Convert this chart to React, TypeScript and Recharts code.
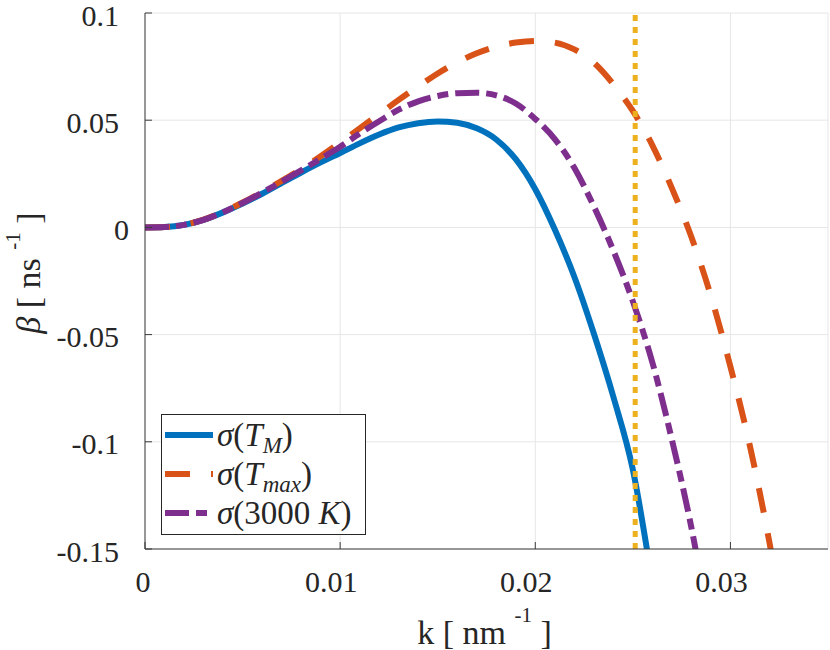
import React from 'react';
import { LineChart, Line, XAxis, YAxis, CartesianGrid, ReferenceLine, Legend } from 'recharts';

// wavenumber k [nm^-1]
const kValues = [
  0, 0.001, 0.002, 0.003, 0.004, 0.005, 0.006, 0.007, 0.008, 0.009,
  0.010, 0.011, 0.012, 0.013, 0.014, 0.015, 0.016, 0.017, 0.018, 0.019,
  0.020, 0.021, 0.022, 0.023, 0.024, 0.025, 0.026, 0.027, 0.028, 0.029,
  0.030, 0.031, 0.032, 0.033,
];

// beta [ns^-1] for sigma(T_M)
const betaTM = [
  0, 0.0002, 0.0012, 0.0035, 0.0070, 0.0111, 0.0157, 0.0207, 0.0256, 0.0303,
  0.0347, 0.0392, 0.0433, 0.0466, 0.0486, 0.0494, 0.0488, 0.0462, 0.0410, 0.0318,
  0.0178, -0.0010, -0.0230, -0.0495, -0.0790, -0.1130, -0.1660, null, null, null,
  null, null, null, null,
];

// beta [ns^-1] for sigma(T_max)
const betaTmax = [
  0, 0.0002, 0.0012, 0.0036, 0.0072, 0.0116, 0.0165, 0.0217, 0.0272, 0.0332,
  0.0396, 0.0462, 0.0528, 0.0595, 0.0658, 0.0718, 0.0770, 0.0812, 0.0843, 0.0862,
  0.0870, 0.0862, 0.0830, 0.0768, 0.0668, 0.0543, 0.0383, 0.0183, -0.0045, -0.0320,
  -0.0650, -0.1020, -0.1470, -0.2000,
];

// beta [ns^-1] for sigma(3000 K)
const beta3000K = [
  0, 0.0002, 0.0012, 0.0035, 0.0071, 0.0114, 0.0162, 0.0213, 0.0266, 0.0320,
  0.0376, 0.0438, 0.0495, 0.0549, 0.0588, 0.0613, 0.0626, 0.0628, 0.0616, 0.0578,
  0.0506, 0.0412, 0.0278, 0.0098, -0.0108, -0.0345, -0.0630, -0.0990, -0.1400, -0.1900,
  null, null, null, null,
];

const kCutoff = 0.02512;

const xTicks = [0, 0.01, 0.02, 0.03];
const xTickLabels = ['0', '0.01', '0.02', '0.03'];
const yTicks = [-0.15, -0.1, -0.05, 0, 0.05, 0.1];
const yTickLabels = ['-0.15', '-0.1', '-0.05', '0', '0.05', '0.1'];
const legendOrder = ['tm', 'tmax', 't3000'];

const data = kValues.map((k, i) => ({
  k,
  tm: betaTM[i],
  tmax: betaTmax[i],
  t3000: beta3000K[i],
}));

const FONT =
  "'Liberation Serif', 'DejaVu Serif', 'Times New Roman', Times, Tinos, 'Noto Serif', FreeSerif, serif";
const TEXT = '#262626';
const AXIS = '#3a3a3a';
const TICK_LEN = 7;
const fontStyle = { fontFamily: FONT };

const BottomTick = (props: any) => {
  const { x, y, payload } = props;
  const idx = xTicks.indexOf(payload.value);
  const label = idx >= 0 ? xTickLabels[idx] : String(payload.value);
  const dx = payload.value === 0 ? -2 : -9;
  return (
    <g>
      <line x1={x} x2={x} y1={y} y2={y - TICK_LEN} stroke={AXIS} strokeWidth={1} />
      <text x={x + dx} y={y + 43} textAnchor="middle" style={fontStyle} fontSize={30} fill={TEXT}>
        {label}
      </text>
    </g>
  );
};

const TopTick = (props: any) => {
  const { x, y } = props;
  return <line x1={x} x2={x} y1={y} y2={y + TICK_LEN} stroke={AXIS} strokeWidth={1} />;
};

const LeftTick = (props: any) => {
  const { x, y, payload } = props;
  const idx = yTicks.findIndex((t) => Math.abs(t - payload.value) < 1e-9);
  const label = idx >= 0 ? yTickLabels[idx] : String(payload.value);
  const endX = payload.value === 0 ? x - 16 : x - 26;
  return (
    <g>
      <line x1={x} x2={x + TICK_LEN} y1={y} y2={y} stroke={AXIS} strokeWidth={1} />
      <text x={endX} y={y + 12.5} textAnchor="end" style={fontStyle} fontSize={30} fill={TEXT}>
        {label}
      </text>
    </g>
  );
};

const RightTick = (props: any) => {
  const { x, y } = props;
  return <line x1={x} x2={x - TICK_LEN} y1={y} y2={y} stroke={AXIS} strokeWidth={1} />;
};

const XLabel = (props: any) => {
  const vb = props.viewBox || { x: 145, y: 549, width: 683, height: 101 };
  const cx = vb.x + vb.width / 2 - 2;
  const by = vb.y + 95;
  return (
    <text x={cx} y={by} textAnchor="middle" style={fontStyle} fontSize={34} fill={TEXT}>
      <tspan>k [ nm </tspan>
      <tspan fontSize={21} dy={-22}>-1</tspan>
      <tspan dy={22}> ]</tspan>
    </text>
  );
};

const YLabel = (props: any) => {
  const vb = props.viewBox || { x: 0, y: 13, width: 145, height: 536 };
  const cy = vb.y + vb.height / 2 - 8;
  return (
    <text
      x={0}
      y={0}
      transform={`translate(40, ${cy}) rotate(-90)`}
      textAnchor="middle"
      style={fontStyle}
      fontSize={34}
      fill={TEXT}
    >
      <tspan fontStyle="italic">β</tspan>
      <tspan> [ ns </tspan>
      <tspan fontSize={21} dy={-20}>-1</tspan>
      <tspan dy={20}> ]</tspan>
    </text>
  );
};

const legendRows: Record<string, () => React.ReactNode> = {
  tm: () => (
    <>
      <tspan fontStyle="italic">σ</tspan>
      <tspan>(</tspan>
      <tspan fontStyle="italic">T</tspan>
      <tspan fontStyle="italic" fontSize={23} dy={7}>M</tspan>
      <tspan dy={-7}>)</tspan>
    </>
  ),
  tmax: () => (
    <>
      <tspan fontStyle="italic">σ</tspan>
      <tspan>(</tspan>
      <tspan fontStyle="italic">T</tspan>
      <tspan fontStyle="italic" fontSize={23} dy={7}>max</tspan>
      <tspan dy={-7}>)</tspan>
    </>
  ),
  t3000: () => (
    <>
      <tspan fontStyle="italic">σ</tspan>
      <tspan>(3000 </tspan>
      <tspan fontStyle="italic">K</tspan>
      <tspan>)</tspan>
    </>
  ),
};

const renderLegend = (props: any) => {
  const payload = ((props.payload || []) as any[])
    .slice()
    .sort((a, b) => legendOrder.indexOf(a.dataKey) - legendOrder.indexOf(b.dataKey));
  return (
    <div
      style={{
        width: 205,
        height: 121,
        boxSizing: 'border-box',
        border: '1px solid #262626',
        background: '#ffffff',
      }}
    >
      <svg width={203} height={119} style={{ display: 'block', overflow: 'visible' }}>
        {payload.map((entry, i) => {
          const cy = 20 + i * 39;
          const p = entry.payload || {};
          const key = entry.dataKey as string;
          const Row = legendRows[key];
          return (
            <g key={key}>
              <line
                x1={3}
                x2={51}
                y1={cy}
                y2={cy}
                stroke={entry.color}
                strokeWidth={6}
                strokeDasharray={p.strokeDasharray}
              />
              <text x={55} y={cy + 11} style={fontStyle} fontSize={33} fill={TEXT}>
                {Row ? Row() : entry.value}
              </text>
            </g>
          );
        })}
      </svg>
    </div>
  );
};

export default function App() {
  return (
    <div style={{ position: 'absolute', left: 0, top: 0, background: '#fff' }}>
      <LineChart
        width={830}
        height={650}
        data={data}
        margin={{ top: 13, right: 2, bottom: 0, left: 0 }}
      >
        <CartesianGrid stroke="#e6e6e6" strokeWidth={1} />
        <XAxis
          dataKey="k"
          type="number"
          domain={[0, 0.035]}
          ticks={xTicks}
          allowDataOverflow
          height={101}
          tickSize={0}
          tickMargin={0}
          tickLine={false}
          tick={BottomTick}
          axisLine={{ stroke: AXIS, strokeWidth: 1 }}
          label={XLabel}
        />
        <XAxis
          xAxisId="top"
          orientation="top"
          type="number"
          domain={[0, 0.035]}
          ticks={xTicks}
          allowDataOverflow
          height={0}
          tickSize={0}
          tickMargin={0}
          tickLine={false}
          tick={TopTick}
          axisLine={{ stroke: AXIS, strokeWidth: 1 }}
        />
        <YAxis
          type="number"
          domain={[-0.15, 0.1]}
          ticks={yTicks}
          allowDataOverflow
          width={145}
          tickSize={0}
          tickMargin={0}
          tickLine={false}
          tick={LeftTick}
          axisLine={{ stroke: AXIS, strokeWidth: 1 }}
          label={YLabel}
        />
        <YAxis
          yAxisId="right"
          orientation="right"
          type="number"
          domain={[-0.15, 0.1]}
          ticks={yTicks}
          allowDataOverflow
          width={0}
          tickSize={0}
          tickMargin={0}
          tickLine={false}
          tick={RightTick}
          axisLine={{ stroke: AXIS, strokeWidth: 1 }}
        />
        <Line
          dataKey="tm"
          name="σ(T_M)"
          type="monotone"
          stroke="#0072BD"
          strokeWidth={6}
          dot={false}
          activeDot={false}
          isAnimationActive={false}
          legendType="line"
        />
        <Line
          dataKey="tmax"
          name="σ(T_max)"
          type="monotone"
          stroke="#D95319"
          strokeWidth={6}
          strokeDasharray="25 21"
          dot={false}
          activeDot={false}
          isAnimationActive={false}
          legendType="line"
        />
        <Line
          dataKey="t3000"
          name="σ(3000 K)"
          type="monotone"
          stroke="#7E2F8E"
          strokeWidth={6}
          strokeDasharray="24 7 11 7"
          dot={false}
          activeDot={false}
          isAnimationActive={false}
          legendType="line"
        />
        <ReferenceLine
          x={kCutoff}
          stroke="#EDB120"
          strokeWidth={5}
          strokeDasharray="6 6"
        />
        <Legend
          layout="vertical"
          align="center"
          verticalAlign="middle"
          content={renderLegend}
          wrapperStyle={{ left: 161, top: 414, width: 205, height: 121 }}
        />
      </LineChart>
    </div>
  );
}
